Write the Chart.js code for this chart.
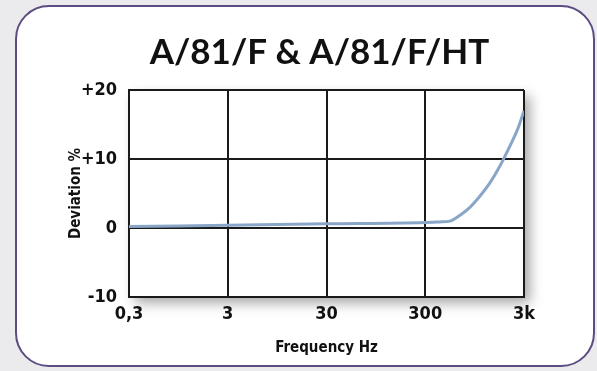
<!DOCTYPE html>
<html>
<head>
<meta charset="utf-8">
<script src="https://cdn.jsdelivr.net/npm/chart.js@4/dist/chart.umd.min.js"></script>
<style>
  html,body{margin:0;padding:0;}
  body{width:597px;height:371px;background:#ebebed;position:relative;overflow:hidden;}
  #box{position:absolute;left:15px;top:5px;width:576px;height:358px;border:2px solid #5d4c82;border-radius:34px;background:#fff;}
  #wrap{position:absolute;left:0;top:0;width:597px;height:371px;}
</style>
</head>
<body>
<div id="box"></div>
<div id="wrap"><canvas id="c" width="597" height="371"></canvas></div>
<script>
const chartTitle = 'A/81/F & A/81/F/HT';
const xAxisTitle = 'Frequency Hz';
const yAxisTitle = 'Deviation %';
const freqHz       = [0.3, 3,   30,  300, 420,  535, 675,  850, 1071, 1350, 1700, 2145, 2600, 3000];
const deviationPct = [0.2, 0.4, 0.6, 0.8, 0.88, 1.0, 1.85, 3.0, 4.6,  6.5,  8.9,  11.8, 14.4, 17.0];
const xTicks = [0.3, 3, 30, 300, 3000];
const xTickLabels = ['0,3', '3', '30', '300', '3k'];
const yTicks = [-10, 0, 10, 20];
const yTickLabels = ['-10', '0', '+10', '+20'];

const tickFont = "'Liberation Sans Narrow', 'DejaVu Sans Condensed', sans-serif";

const shadowPlugin = {
  id: 'plotShadow',
  beforeDraw(chart) {
    const {ctx, chartArea: a} = chart;
    ctx.save();
    ctx.shadowColor = 'rgba(0,0,0,0.35)';
    ctx.shadowBlur = 12;
    ctx.shadowOffsetX = 6;
    ctx.shadowOffsetY = 6;
    ctx.fillStyle = '#fff';
    ctx.fillRect(a.left, a.top, a.right - a.left, a.bottom - a.top);
    ctx.restore();
  }
};

new Chart(document.getElementById('c'), {
  type: 'line',
  data: {
    datasets: [{
      data: freqHz.map((f, i) => ({x: f, y: deviationPct[i]})),
      borderColor: '#89a6c8',
      borderWidth: 3,
      pointRadius: 0,
      cubicInterpolationMode: 'monotone',
      fill: false
    }]
  },
  options: {
    responsive: false,
    animation: false,
    layout: {padding: {left: 42, right: 0, top: 0, bottom: 0}},
    plugins: {
      legend: {display: false},
      tooltip: {enabled: false},
      title: {
        display: true,
        text: chartTitle,
        color: '#111',
        font: {family: "'Lato', sans-serif", size: 35, weight: 'bold', lineHeight: 1},
        padding: {top: 35, bottom: 20}
      }
    },
    scales: {
      x: {
        type: 'logarithmic',
        min: 0.3, max: 3000,
        afterBuildTicks: s => { s.ticks = xTicks.map(v => ({value: v})); },
        afterFit: s => { s.height = 74; },
        grid: {color: '#1a1a1a', lineWidth: 2, drawTicks: false},
        border: {color: '#1a1a1a', width: 2},
        ticks: {
          autoSkip: false, maxRotation: 0, padding: 7, color: '#111',
          font: {family: tickFont, size: 18, weight: 'bold'},
          callback: (v, i) => xTickLabels[i]
        },
        title: {
          display: true, text: xAxisTitle, color: '#111',
          font: {family: tickFont, size: 15, weight: 'bold', lineHeight: 1.2},
          padding: {top: 0, bottom: 14}
        }
      },
      y: {
        min: -10, max: 20,
        afterBuildTicks: s => { s.ticks = yTicks.map(v => ({value: v})); },
        afterFit: s => { s.width = 87; },
        grid: {color: '#1a1a1a', lineWidth: 2, drawTicks: false},
        border: {color: '#1a1a1a', width: 2},
        ticks: {
          padding: 12, color: '#111',
          font: {family: tickFont, size: 18, weight: 'bold'},
          callback: (v) => yTickLabels[yTicks.indexOf(v)]
        },
        title: {
          display: true, text: yAxisTitle, color: '#111',
          font: {family: tickFont, size: 15, weight: 'bold', lineHeight: 1.2},
          padding: {top: 25, bottom: 0}
        }
      },
      y2: {
        position: 'right',
        display: true,
        grid: {display: false},
        border: {display: false},
        ticks: {display: false},
        afterFit: s => { s.width = 73; }
      }
    }
  },
  plugins: [shadowPlugin]
});
</script>
</body>
</html>
